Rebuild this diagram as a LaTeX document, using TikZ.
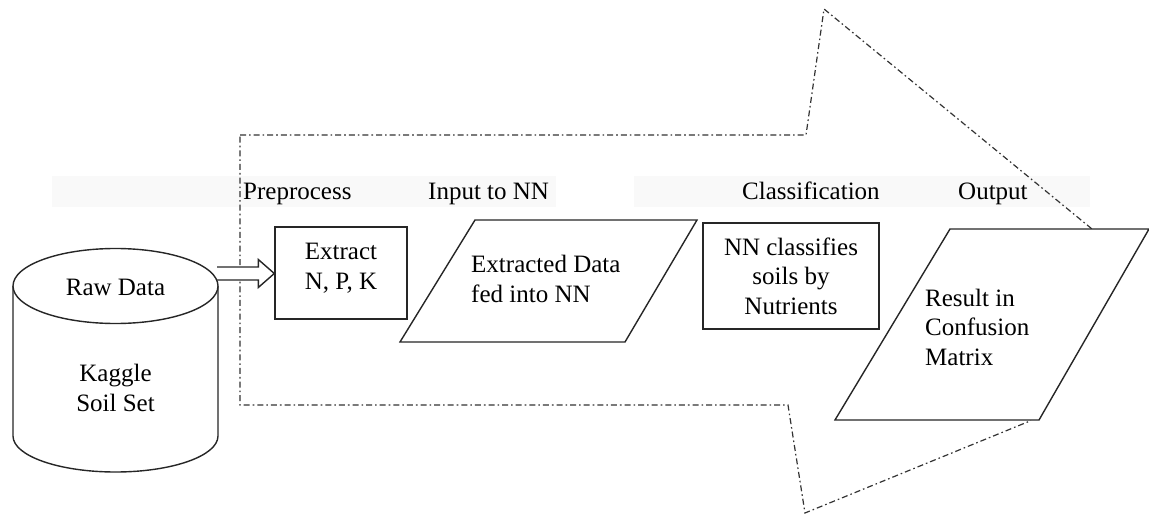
\documentclass[tikz,border=0pt]{standalone}
\usepackage{fontspec}
\setmainfont{Liberation Serif}
\begin{document}
\begin{tikzpicture}[x=1pt,y=-1pt,
  every node/.style={font=\fontsize{25}{29.5}\selectfont, inner sep=0pt},
  solidline/.style={draw=black!85, line width=1.4pt, line join=miter},
  dashdotline/.style={draw=black!80, line width=1.2pt, dash pattern=on 6pt off 3pt on 1.6pt off 3pt},
  band/.style={fill=black!2.5, draw=none},
  stagelabel/.style={anchor=base west},
  procbox/.style={solidline, rectangle, fill=white, align=center}]
\useasboundingbox (0,0) rectangle (1149,516);
% faint scan band behind stage labels
\fill[band] (52,176) rectangle (556,207);
\fill[band] (634,176) rectangle (1090,207);
% big dash-dot arrow outline
\draw[dashdotline] (240,135) coordinate (o1) -- (806,135) coordinate (o2) -- (824,9) coordinate (o3)
   -- (1092,229) -- (1080,320) -- (1030,421) -- (805,513) coordinate (o4) -- (788,405) coordinate (o5)
   -- (240,405) coordinate (o6) -- cycle;
% stage labels
\node[stagelabel] (lpre) at (243,200) {Preprocess};
\node[stagelabel] (linp) at (428,200) {Input to NN};
\node[stagelabel] (lcls) at (742,200) {Classification};
\node[stagelabel] (lout) at (958,200) {Output};
% cylinder
\draw[solidline, fill=white] (13,286) -- (13,436) arc[start angle=180, end angle=360, x radius=102.5, y radius=-36] -- (218,286);
\draw[solidline, fill=white] (115.5,286) ellipse[x radius=102.5, y radius=37.5];
\node (raw) at (115.5,287) {Raw Data};
\node[align=center] (kaggle) at (115.5,388) {Kaggle\\Soil Set};
% extract box
\node[procbox, minimum width=132pt, minimum height=92pt] (extract) at (341,273) {};
\node[align=center] (extracttxt) at (341,268) {Extract\\N, P, K};
% hollow arrow from cylinder to extract box
\coordinate (ha) at (217,273.5);
\coordinate (hb) at (extract.west |- ha);
\draw[solidline, fill=white] ([yshift=-6.5pt]ha) -- ([xshift=-16pt,yshift=-6.5pt]hb) -- ([xshift=-16pt,yshift=-14pt]hb)
   -- (hb) -- ([xshift=-16pt,yshift=14pt]hb) -- ([xshift=-16pt,yshift=6.5pt]hb) -- ([yshift=6.5pt]ha);
% input parallelogram
\draw[solidline, fill=white] (400,342) coordinate (p1) -- (475,220) coordinate (p2) -- (697,220) coordinate (p3) -- (625,342) coordinate (p4) -- cycle;
\node[align=left, anchor=west] (inputtxt) at (471,279) {Extracted Data\\fed into NN};
% classification box
\node[procbox, minimum width=176pt, minimum height=106pt] (classify) at (791,276) {NN classifies\\soils by\\Nutrients};
% output parallelogram
\draw[solidline, fill=white] (835,420) coordinate (q1) -- (950,229) coordinate (q2) -- (1149,229) coordinate (q3) -- (1039,420) coordinate (q4) -- cycle;
\node[align=left, anchor=west] (outputtxt) at (925,327) {Result in\\Confusion\\Matrix};
\end{tikzpicture}
\end{document}
